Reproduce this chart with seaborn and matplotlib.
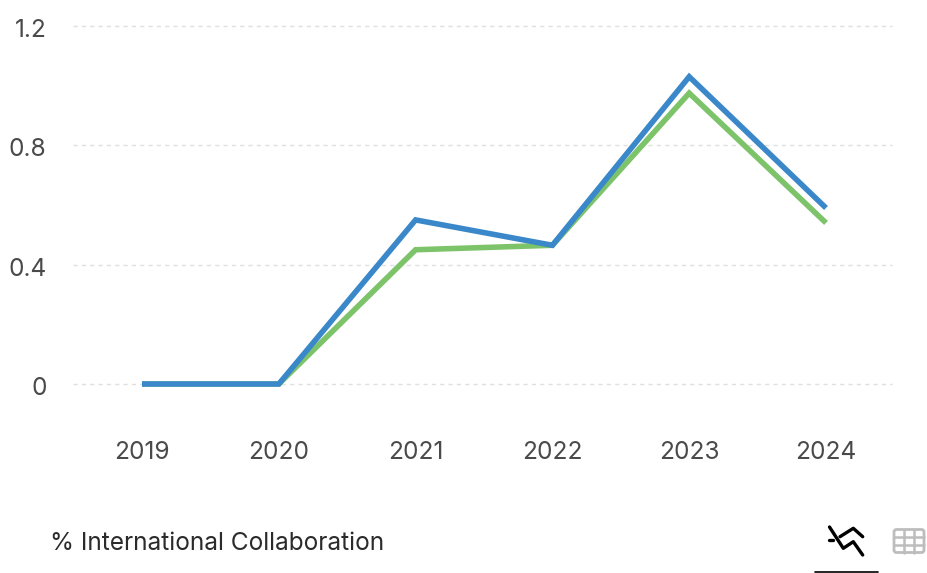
import matplotlib
matplotlib.use("Agg")
import matplotlib.pyplot as plt
from matplotlib.patches import FancyBboxPatch
from matplotlib.transforms import ScaledTranslation
import pandas as pd
import seaborn as sns

years = [2019, 2020, 2021, 2022, 2023, 2024]
blue_values = [0, 0, 0.55, 0.465, 1.03, 0.59]
green_values = [0, 0, 0.45, 0.465, 0.975, 0.54]
y_ticks = [0, 0.4, 0.8, 1.2]
y_labels = ["0", "0.4", "0.8", "1.2"]
title = "% International Collaboration"

sns.set_theme(style="white")
plt.rcParams["font.family"] = ["Inter", "DejaVu Sans"]
W, H = 928, 573
fig = plt.figure(figsize=(W / 100, H / 100), dpi=100, facecolor="white")
ax = fig.add_axes([73 / W, 1 - 384 / H, (892 - 73) / W, (384 - 26) / H])

df = pd.DataFrame({"year": years, "blue": blue_values, "green": green_values})
sns.lineplot(data=df, x="year", y="green", ax=ax, color="#7cc36a", linewidth=4, clip_on=False, zorder=3, solid_joinstyle="miter", solid_capstyle="butt")
sns.lineplot(data=df, x="year", y="blue", ax=ax, color="#3a88c9", linewidth=4, clip_on=False, zorder=4, solid_joinstyle="miter", solid_capstyle="butt")

ax.set_xlim(2019 - 69 / 136.8, 2024 + 66 / 136.8)
ax.set_ylim(0, 1.2)
ax.set_xlabel("")
ax.set_ylabel("")
ax.set_xticks(years)
ax.set_yticks(y_ticks)
ax.set_yticklabels(y_labels)
ax.tick_params(axis="x", length=0, pad=41, labelsize=17.6, labelcolor="#4a4a4a")
ax.tick_params(axis="y", length=0, pad=19, labelsize=17.6, labelcolor="#4a4a4a")
for lab in ax.get_yticklabels():
    lab.set_verticalalignment("center_baseline")
    lab.set_transform(lab.get_transform() + ScaledTranslation(0, -1.5 / 72, fig.dpi_scale_trans))
ax.grid(axis="y", color="#e0e0e0", lw=1, ls=(0, (3, 3)), clip_on=False)
ax.grid(axis="x", visible=False)
for s in ax.spines.values():
    s.set_visible(False)
ax.patch.set_alpha(0)

# Footer: overlay in pixel coordinates for the title and icons
ov = fig.add_axes([0, 0, 1, 1], zorder=5)
ov.set_xlim(0, W)
ov.set_ylim(H, 0)
ov.axis("off")
ov.text(50, 544, title, fontsize=17.6, color="#2b2b2b", va="center", ha="left")

ov.plot([829.5, 843.3, 853.3, 862.7], [527, 548.3, 541.7, 555], color="black", lw=2.4)
ov.plot([840, 853.3, 862.7], [536.7, 528.3, 536.7], color="black", lw=2.4)
ov.plot([829, 833], [539.5, 539.5], color="black", lw=2.4)
ov.plot([815, 878], [572, 572], color="black", lw=1.2)

ov.add_patch(FancyBboxPatch((894, 529.5), 30, 23, boxstyle="round,pad=0,rounding_size=2.5",
                            fc="none", ec="#bdbdbd", lw=2))
for x in (904, 914):
    ov.plot([x, x], [529.5, 552.5], color="#bdbdbd", lw=1.8)
for y in (537, 545):
    ov.plot([894, 924], [y, y], color="#bdbdbd", lw=1.8)

fig.savefig("out.png", dpi=100, facecolor="white")
